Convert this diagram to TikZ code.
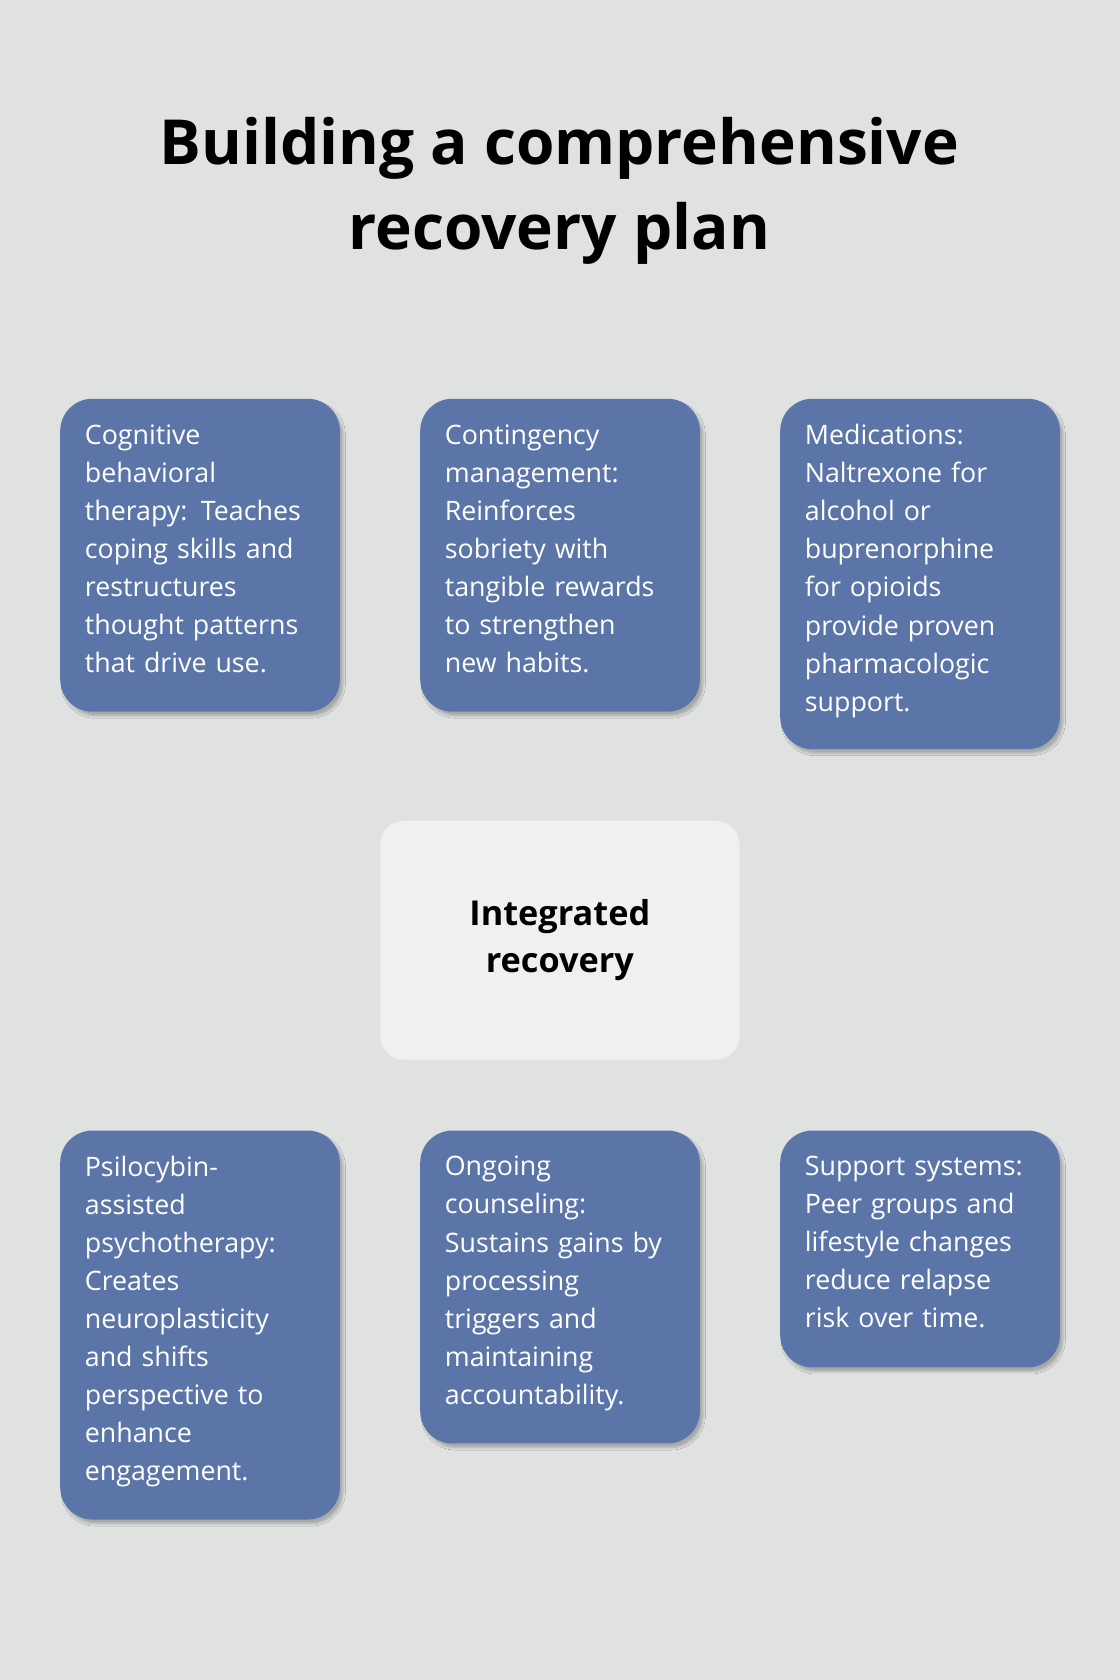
\documentclass[tikz,border=0pt]{standalone}
\usepackage{fontspec}
\setmainfont{Open Sans}
\usetikzlibrary{backgrounds,shadows.blur}
\definecolor{bg}{HTML}{E0E2E2}
\definecolor{boxc}{HTML}{5B75A8}
\definecolor{cen}{HTML}{EFF0F2}
\definecolor{dash}{HTML}{555555}
\begin{document}
\begin{tikzpicture}[x=1pt,y=-1pt,
  box/.style={draw=none,fill=boxc,rounded corners=30pt,minimum width=261pt,anchor=north west,inner sep=0pt,blur shadow={shadow blur steps=6,shadow xshift=3pt,shadow yshift=-4pt,shadow opacity=25}},
  txt/.style={anchor=north west,text width=240pt,align=left,inner sep=0pt,text=white,font=\fontsize{25}{35.5}\selectfont},
  conn/.style={draw=dash,line width=2.5pt,dash pattern=on 5pt off 5pt}]
\useasboundingbox[fill=bg] (0,0) rectangle (1045,1568);
\node[font=\bfseries\fontsize{58}{80}\selectfont,align=center] (title) at (522,178) {Building a comprehensive\\recovery plan};
\node[box,minimum height=292pt] (tl) at (56,372) {};
\node[box,minimum height=292pt] (tc) at (392,372) {};
\node[box,minimum height=327pt] (tr) at (728,372) {};
\node[box,minimum height=363pt] (bl) at (56,1055) {};
\node[box,minimum height=292pt] (bc) at (392,1055) {};
\node[box,minimum height=221pt] (br) at (728,1055) {};
\node[fill=cen,rounded corners=22pt,minimum width=335pt,minimum height=223pt,inner sep=0pt,align=center,font=\bfseries\fontsize{32}{44}\selectfont] (c) at (522.5,877.5) {Integrated\\recovery};
\begin{scope}[on background layer]
\draw[conn] (c.center) -- (tl.center);
\draw[conn] (c.center) -- (tc.center);
\draw[conn] (c.center) -- (tr.center);
\draw[conn] (c.center) -- (bl.center);
\draw[conn] (c.center) -- (bc.center);
\draw[conn] (c.center) -- (br.center);
\end{scope}
\node[txt] (t1) at (79,396) {Cognitive\\behavioral\\therapy: Teaches\\coping skills and\\restructures\\thought patterns\\that drive use.};
\node[txt] (t2) at (415,396) {Contingency\\management:\\Reinforces\\sobriety with\\tangible rewards\\to strengthen\\new habits.};
\node[txt] (t3) at (751,396) {Medications:\\Naltrexone for\\alcohol or\\buprenorphine\\for opioids\\provide proven\\pharmacologic\\support.};
\node[txt] (t4) at (79,1079) {Psilocybin-\\assisted\\psychotherapy:\\Creates\\neuroplasticity\\and shifts\\perspective to\\enhance\\engagement.};
\node[txt] (t5) at (415,1079) {Ongoing\\counseling:\\Sustains gains by\\processing\\triggers and\\maintaining\\accountability.};
\node[txt] (t6) at (751,1079) {Support systems:\\Peer groups and\\lifestyle changes\\reduce relapse\\risk over time.};
\end{tikzpicture}
\end{document}
